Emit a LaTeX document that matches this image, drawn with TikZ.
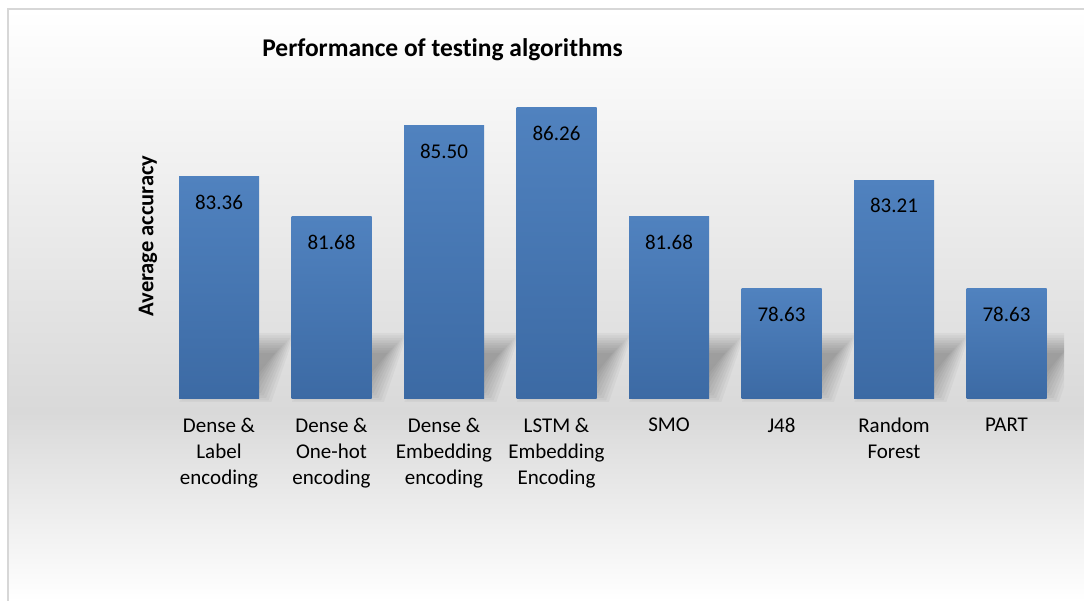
\documentclass[tikz,border=0pt]{standalone}
\usepackage{fontspec}
\setmainfont{Carlito}[Ligatures=NoCommon]
\definecolor{bartop}{RGB}{80,130,191}
\definecolor{barbot}{RGB}{60,106,164}
\definecolor{bgmid}{RGB}{217,217,217}
\definecolor{framegray}{RGB}{215,215,215}
\pgfdeclareverticalshading{chartbg}{100bp}{color(0bp)=(white); color(25bp)=(white); color(41bp)=(bgmid); color(75bp)=(white); color(100bp)=(white)}
\tikzset{
  barbox/.style={top color=bartop, bottom color=barbot, draw=none, minimum width=80pt, inner sep=0pt, anchor=south},
  vallab/.style={font=\fontsize{21}{25}\selectfont, inner sep=0pt},
  catlab/.style={font=\fontsize{21}{26}\selectfont, align=center, inner sep=0pt, anchor=north},
  shadowlayer/.style={fill=black, opacity=0.035, draw=none}
}
\begin{document}
\begin{tikzpicture}[x=1pt,y=1pt]
\useasboundingbox (0,0) rectangle (1084,601);
% background
\fill[shading=chartbg] (8,0) rectangle (1084,592);
\draw[framegray, line width=1.5pt] (8,0) -- (8,592) -- (1084,592);
% shadows
\begin{scope}
\clip (170,199) rectangle (1064,290);
\foreach \i in {0,...,7}{
  \pgfmathsetmacro\xa{179+112.5*\i}
  \pgfmathsetmacro\xb{\xa+80}
  \foreach \k in {0,...,8}{
    \pgfmathsetmacro\d{2.5*\k}
    \fill[shadowlayer] (\xa+\d, 198+\d) -- (\xb+12-\d, 198+\d) -- (\xb+36-\d, 268-\d) -- (\xa+24+\d, 268-\d) -- cycle;
  }
}
\end{scope}
% bars
\foreach \i/\v/\lab in {
  0/83.36/{Dense \&\\Label\\encoding},
  1/81.68/{Dense \&\\One-hot\\encoding},
  2/85.50/{Dense \&\\Embedding\\encoding},
  3/86.26/{LSTM \&\\Embedding\\Encoding},
  4/81.68/{SMO},
  5/78.63/{J48},
  6/83.21/{Random\\Forest},
  7/78.63/{PART}}{
  \pgfmathsetmacro\h{(\v-74)*23.75}
  \pgfmathsetmacro\xc{219+112.5*\i}
  \node[barbox, minimum height=\h pt] (bar\i) at (\xc,202) {};
  \node[vallab] (val\i) at ([yshift=-26pt]bar\i.north) {\v};
  \node[catlab] (cat\i) at ([yshift=-19pt]bar\i.south) {\lab};
}
\node[font=\bfseries\fontsize{25.5}{30}\selectfont, inner sep=0pt] (title) at (442.5,551) {Performance of testing algorithms};
\node[font=\bfseries\fontsize{22.5}{27}\selectfont, rotate=90, inner sep=0pt] (ytitle) at (148,365) {Average accuracy};
\end{tikzpicture}
\end{document}
